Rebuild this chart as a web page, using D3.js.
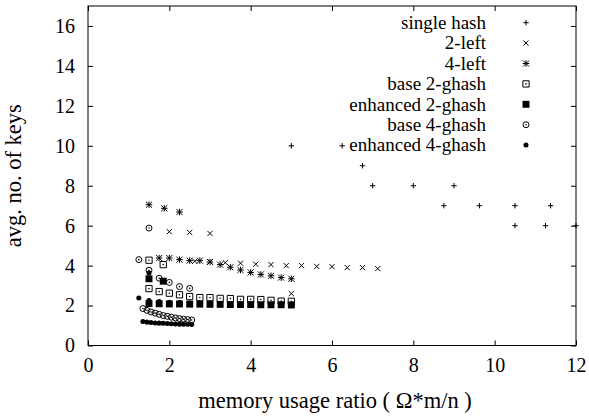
<!DOCTYPE html>
<html>
<head>
<meta charset="utf-8">
<script src="https://cdn.jsdelivr.net/npm/d3@7"></script>
<style>
  body { margin: 0; background: #fff; }
  svg { display: block; font-family: "Liberation Serif", "Times New Roman", serif; }
  .legend text { font-size: 19px; fill: #000; }
  .title { font-size: 22.5px; fill: #000; }
</style>
</head>
<body>
<div id="chart"></div>
<script>
// tick values
const xTicks = [0, 2, 4, 6, 8, 10, 12];
const yTicks = [0, 2, 4, 6, 8, 10, 12, 14, 16];

// series as [ratio, keys]
const singleHash = [[5, 10], [6.25, 10], [6.75, 9], [7, 8], [8, 8], [9, 8], [8.75, 7], [9.625, 7],
  [10.5, 7], [11.375, 7], [10.5, 6], [11.25, 6], [12, 6]];
const twoLeft = [[2, 5.7], [2.5, 5.66], [3, 5.61], [2.625, 4.22], [3, 4.2], [3.375, 4.15], [3.75, 4.12],
  [4.125, 4.07], [4.5, 4.05], [4.875, 4.0], [5.25, 4.0], [5.625, 3.96], [6, 3.95], [6.375, 3.9],
  [6.75, 3.9], [7.125, 3.85], [5, 2.6]];
const fourLeft = [[1.5, 7.05], [1.875, 6.87], [2.25, 6.68], [1.75, 4.38], [2, 4.38], [2.25, 4.3],
  [2.5, 4.25], [2.75, 4.25], [3, 4.18], [3.25, 4.05], [3.5, 3.92], [3.75, 3.78], [4, 3.66],
  [4.25, 3.56], [4.5, 3.49], [4.75, 3.4], [5, 3.34]];
const base2 = [[1.5, 4.27], [1.85, 4.05], [1.5, 2.85], [1.75, 2.7], [2, 2.62], [2.25, 2.54], [2.5, 2.45],
  [2.75, 2.4], [3, 2.4], [3.25, 2.36], [3.5, 2.35], [3.75, 2.31], [4, 2.31], [4.25, 2.3],
  [4.5, 2.26], [4.75, 2.22], [5, 2.21]];
const enhanced2 = [[1.5, 3.34], [1.85, 3.22], [1.5, 2.1], [1.75, 2.09], [2, 2.08], [2.25, 2.08], [2.5, 2.07],
  [2.75, 2.07], [3, 2.06], [3.25, 2.06], [3.5, 2.05], [3.75, 2.05], [4, 2.05], [4.25, 2.04],
  [4.5, 2.04], [4.75, 2.04], [5, 2.03]];
const base4 = [[1.5, 5.88], [1.25, 4.3], [1.5, 3.77], [1.75, 3.37], [2, 3.16], [2.25, 2.95], [2.5, 2.86],
  [1.35, 1.85], [1.45, 1.76], [1.55, 1.68], [1.65, 1.62], [1.75, 1.56], [1.85, 1.5], [1.95, 1.46],
  [2.05, 1.42], [2.15, 1.38], [2.25, 1.35], [2.35, 1.32], [2.45, 1.3], [2.55, 1.28]];
const enhanced4 = [[1.25, 2.38], [1.5, 3.63], [1.5, 2.25], [1.75, 2.2], [2, 2.17], [2.25, 2.15], [2.5, 2.13],
  [1.35, 1.2], [1.45, 1.17], [1.55, 1.15], [1.65, 1.13], [1.75, 1.12], [1.85, 1.11], [1.95, 1.1],
  [2.05, 1.09], [2.15, 1.08], [2.25, 1.07], [2.35, 1.06], [2.45, 1.06], [2.55, 1.05]];

const seriesNames = ["single hash", "2-left", "4-left", "base 2-ghash", "enhanced 2-ghash", "base 4-ghash", "enhanced 4-ghash"];

const width = 589, height = 416;
const margin = {top: 6, right: 13, bottom: 70.5, left: 88};
const w = width - margin.left - margin.right;
const h = height - margin.top - margin.bottom;

const x = d3.scaleLinear().domain([0, 12]).range([0, w]);
const y = d3.scaleLinear().domain([0, 17]).range([h, 0]);

const svg = d3.select("#chart").append("svg")
  .attr("width", width).attr("height", height);
const chart = svg.append("g").attr("transform", `translate(${margin.left},${margin.top})`);

// gnuplot style point types, built with d3.symbol
const stroked = (type, size) => ({path: d3.symbol(type, size)(), fill: "none", stroke: "#000"});
const filled = (type, size) => ({path: d3.symbol(type, size)(), fill: "#000", stroke: "none"});
const markers = [
  [stroked(d3.symbolPlus, 11)],
  [stroked(d3.symbolTimes, 19)],
  [stroked(d3.symbolPlus, 16), stroked(d3.symbolTimes, 26)],
  [stroked(d3.symbolSquare2, 50), filled(d3.symbolCircle, 2)],
  [filled(d3.symbolSquare, 48)],
  [stroked(d3.symbolCircle, 28), filled(d3.symbolCircle, 2)],
  [filled(d3.symbolCircle, 20)]
];
const allSeries = [singleHash, twoLeft, fourLeft, base2, enhanced2, base4, enhanced4];

function drawMarker(g, k) {
  markers[k].forEach(m => {
    g.append("path").attr("d", m.path)
      .attr("fill", m.fill).attr("stroke", m.stroke).attr("stroke-width", 1);
  });
}

// axes with inward ticks, mirrored on top and right
const tickLen = 5;
const axes = [
  chart.append("g").attr("transform", `translate(0,${h})`)
    .call(d3.axisBottom(x).tickValues(xTicks).tickSize(-tickLen).tickPadding(12)),
  chart.append("g")
    .call(d3.axisTop(x).tickValues(xTicks).tickSize(-tickLen).tickFormat("")),
  chart.append("g")
    .call(d3.axisLeft(y).tickValues(yTicks).tickSize(-tickLen).tickPadding(13)),
  chart.append("g").attr("transform", `translate(${w},0)`)
    .call(d3.axisRight(y).tickValues(yTicks).tickSize(-tickLen).tickFormat(""))
];
axes.forEach(a => {
  a.select(".domain").remove();
  a.selectAll("line").attr("stroke", "#000");
  a.selectAll("text")
    .style("font-family", "'Liberation Serif', 'Times New Roman', serif")
    .style("font-size", "20px")
    .style("fill", "#000");
});
chart.append("rect").attr("width", w).attr("height", h)
  .attr("fill", "none").attr("stroke", "#000").attr("stroke-width", 1);

// points
allSeries.forEach((data, k) => {
  chart.append("g").selectAll("g").data(data).join("g")
    .attr("transform", d => `translate(${x(d[0])},${y(d[1])})`)
    .each(function() { drawMarker(d3.select(this), k); });
});

// legend
const legend = svg.append("g").attr("class", "legend");
seriesNames.forEach((name, k) => {
  const row = legend.append("g").attr("transform", `translate(0,${22.7 + k * 20.4})`);
  row.append("text").attr("x", 486).attr("dy", "0.33em").attr("text-anchor", "end").text(name);
  drawMarker(row.append("g").attr("transform", "translate(526,0)"), k);
});

// axis titles
svg.append("text").attr("class", "title")
  .attr("x", margin.left + w / 2 + 3).attr("y", 408).attr("text-anchor", "middle")
  .text("memory usage ratio ( Ω*m/n )");
svg.append("text").attr("class", "title")
  .attr("transform", `translate(21,${margin.top + h / 2}) rotate(-90)`)
  .attr("text-anchor", "middle")
  .text("avg. no. of keys");
</script>
</body>
</html>
